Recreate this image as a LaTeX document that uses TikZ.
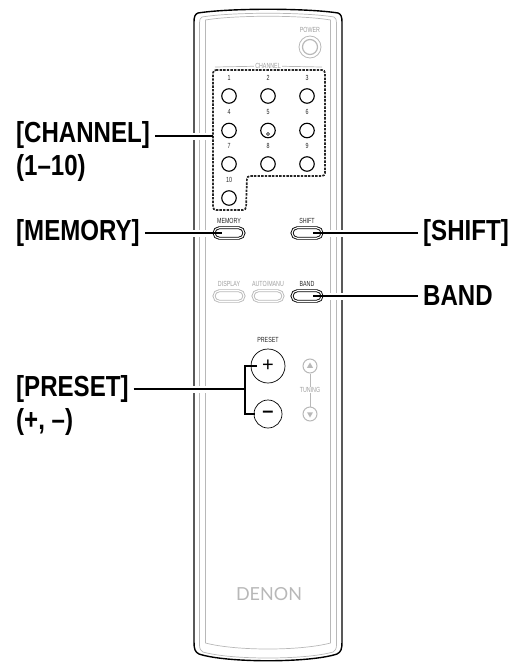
\documentclass[tikz,border=0pt]{standalone}
\usepackage{fontspec}
\setmainfont{Liberation Sans}
\newfontfamily\calloutfont[FakeStretch=0.83]{Liberation Sans}
\newfontfamily\keyfont[FakeStretch=0.72]{Liberation Sans}
\newfontfamily\logofont{Lato}
\usetikzlibrary{backgrounds,shapes.misc,shapes.geometric}
\definecolor{panelgray}{gray}{0.72}
\definecolor{printgray}{gray}{0.62}

\begin{document}
\begin{tikzpicture}
[x=1pt,y=-1pt,
callout/.style={inner ysep=0pt,inner xsep=5pt,anchor=west,font=\calloutfont\fontsize{29}{29}\selectfont\bfseries},
tiny/.style={inner sep=0pt,font=\keyfont\fontsize{7.4}{7.4}\selectfont},
keytext/.style={tiny,text=black!85},
graytext/.style={tiny,text=printgray},
roundkey/.style={circle,draw=black,line width=1.1pt,inner sep=0pt,minimum size=14.5pt},
graykey/.style={circle,draw=panelgray,line width=1pt,inner sep=0pt,minimum size=14pt},
longkey/.style={rounded rectangle,draw=black,line width=0.9pt,double=white,double distance=1.1pt,inner sep=0pt,minimum width=30pt,minimum height=10.5pt},
longgray/.style={longkey,draw=panelgray},
leader/.style={line width=1.7pt},
halo/.style={white,line width=7pt},
trim/.style={panelgray,line width=0.7pt}]
\useasboundingbox (0,0) rectangle (518,667);

\node[roundkey] (k1) at (229,96) {};
\node[roundkey] (k2) at (268,96) {};
\node[roundkey] (k3) at (307,96) {};
\node[roundkey] (k4) at (229,130.5) {};
\node[roundkey] (k5) at (268,130.5) {};
\node[roundkey] (k6) at (307,130.5) {};
\node[roundkey] (k7) at (229,164) {};
\node[roundkey] (k8) at (268,164) {};
\node[roundkey] (k9) at (307,164) {};
\node[roundkey] (k10) at (229,198) {};
\node[circle,draw=black,line width=0.6pt,inner sep=0pt,minimum size=3pt] (k5dot) at (268,134) {};

\foreach \n/\xx/\yy in {1/229/78,2/268/78,3/307/78,4/229/112,5/268/112,6/307/112,7/229/146,8/268/146,9/307/146,10/229/180}
  \node[keytext] (t\n) at (\xx,\yy) {\n};

\node[keytext] (memorytext) at (229,221) {MEMORY};
\node[keytext] (shifttext) at (307,221) {SHIFT};
\node[longkey] (memory) at (229,233) {};
\node[longkey] (shift) at (307,233) {};
\node[graytext] (displaytext) at (229,284) {DISPLAY};
\node[graytext] (autotext) at (268,284) {AUTO/MANU};
\node[keytext] (bandtext) at (307,284) {BAND};
\node[longgray] (display) at (229,296) {};
\node[longgray] (auto) at (268,296) {};
\node[longkey] (band) at (307,296) {};

\node[keytext] (presettext) at (268,340) {PRESET};
\node[circle,draw=black,line width=0.7pt,inner sep=0pt,minimum size=34pt,font=\fontsize{20}{20}\selectfont] (plus) at (268,366) {+};
\node[circle,draw=black,line width=0.7pt,inner sep=0pt,minimum size=28pt,font=\fontsize{20}{20}\selectfont] (minus) at (268,414) {\textbf{–}};

\node[graykey] (tunup) at (310,366) {};
\node[graykey] (tundown) at (310,414) {};
\node[regular polygon,regular polygon sides=3,fill=panelgray,inner sep=0pt,minimum size=7pt] (uptri) at (310,366) {};
\node[regular polygon,regular polygon sides=3,shape border rotate=180,fill=panelgray,inner sep=0pt,minimum size=7pt] (downtri) at (310,414) {};
\node[graytext] (tuning) at (310,390) {TUNING};
\draw[trim] (tunup) -- (tuning);
\draw[trim] (tuning) -- (tundown);

\node[circle,draw=panelgray,line width=0.8pt,inner sep=0pt,minimum size=22pt] (powerout) at (310,47) {};
\node[circle,draw=panelgray,line width=1.2pt,inner sep=0pt,minimum size=15pt] (powerin) at (310,47) {};
\node[graytext] (powertext) at (310,30) {POWER};
\node[graytext,fill=white,inner xsep=1pt] (channeltext) at (268,66) {CHANNEL};
\node[inner sep=0pt,text=panelgray,font=\logofont\fontsize{18}{18}\selectfont] (denon) at (269,594) {DENON};

\node[callout] (channel) at (11,135) {[CHANNEL]};
\node[callout] (channelrange) at (11,168) {(1–10)};
\node[callout] (memorylabel) at (11,233) {[MEMORY]};
\node[callout] (shiftlabel) at (418,233) {[SHIFT]};
\node[callout] (bandlabel) at (418,296) {BAND};
\node[callout] (preset) at (11,389) {[PRESET]};
\node[callout] (presetrange) at (11,422) {(+, –)};

\coordinate (boxedge) at (213,136);
\coordinate (channelstart) at (channel.east |- boxedge);
\coordinate (memoryend) at (222,233);
\coordinate (shiftend) at (313,233);
\coordinate (bandend) at (313,296);
\coordinate (presetjoin) at (245,389);
\coordinate (plusend) at (257,366);
\coordinate (minusend) at (255,414);
\coordinate (plusturn) at (245,366);
\coordinate (minusturn) at (245,414);

\begin{pgfonlayer}{background}
\draw[line width=1.4pt] (198,13) .. controls (230,8) and (306,8) .. (338,13)
  .. controls (341,14) and (342,17) .. (342,22) -- (342,642)
  .. controls (342,649) and (341,652) .. (337,654)
  .. controls (310,663) and (226,663) .. (199,654)
  .. controls (195,652) and (194,649) .. (194,642) -- (194,22)
  .. controls (194,17) and (195,14) .. (198,13) -- cycle;
\draw[trim] (202,17) .. controls (232,12) and (304,12) .. (334,17)
  .. controls (336,18) and (336.5,20) .. (336.5,23) -- (336.5,645)
  .. controls (336.5,649) and (335,651) .. (333,652)
  .. controls (305,660) and (231,660) .. (203,652)
  .. controls (201,651) and (199.5,649) .. (199.5,645) -- (199.5,23)
  .. controls (199.5,20) and (200,18) .. (202,17) -- cycle;
\draw[trim] (205.5,20) .. controls (235,15) and (301,15) .. (330.5,20) -- (330.5,643)
  .. controls (300,651) and (236,651) .. (205.5,643) -- cycle;
\draw[trim] (215,67) -- (channeltext);
\draw[trim] (channeltext) -- (322,67);
\draw[halo] (channelstart) -- (boxedge);
\draw[halo] (memorylabel) -- (memoryend);
\draw[halo] (shiftend) -- (shiftlabel);
\draw[halo] (bandend) -- (bandlabel);
\draw[halo] (preset) -- (presetjoin);
\end{pgfonlayer}

\draw[line width=1.7pt,dash pattern=on 2.4pt off 1.2pt,black!85,rounded corners=3pt]
  (213,70) -- (325,70) -- (325,176) -- (247,176) -- (246,210) -- (213,210) -- cycle;
\draw[leader] (channelstart) -- (boxedge);
\draw[leader] (memorylabel) -- (memoryend);
\draw[leader] (shiftlabel) -- (shiftend);
\draw[leader] (bandlabel) -- (bandend);
\draw[leader] (preset) -- (presetjoin);
\draw[leader] (plusend) -- (plusturn) -- (minusturn) -- (minusend);
\end{tikzpicture}
\end{document}
